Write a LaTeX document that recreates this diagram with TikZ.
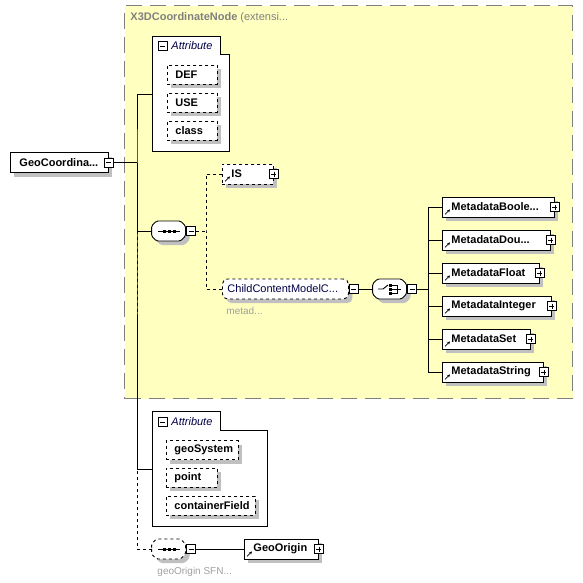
\documentclass[tikz,border=0pt]{standalone}
\usepackage{fontspec}
\setmainfont{Liberation Sans}
\usepackage{tikz}
\usetikzlibrary{shadows,arrows.meta}

\definecolor{amarillo}{RGB}{255,255,192}
\definecolor{gris}{RGB}{128,128,128}
\definecolor{grisclaro}{RGB}{160,160,160}
\definecolor{sombra}{RGB}{192,192,192}
\definecolor{azul}{RGB}{0,0,72}

\begin{document}
\begin{tikzpicture}[x=1pt, y=-1pt, line width=0.9pt, font=\fontsize{11}{13}\selectfont]

\useasboundingbox (0,0) rectangle (583,582);

% Set the overall look of the boxes
\tikzstyle{sombreado}=[drop shadow={shadow xshift=4pt, shadow yshift=-4pt, fill=sombra, opacity=1}]
\tikzstyle{elemento}=[rectangle, draw, fill=white, sombreado, anchor=west, minimum height=20pt, inner xsep=9pt, align=left, font=\fontsize{11}{13}\selectfont\bfseries]
\tikzstyle{atributo}=[elemento, dashed, minimum height=19pt, inner xsep=8pt]
\tikzstyle{grupo}=[rectangle, anchor=north west, inner sep=0pt]
\tikzstyle{modelo}=[rectangle, minimum width=34pt, minimum height=20pt, inner sep=0pt]
\tikzstyle{octo}=[draw, fill=white, sombreado, rounded corners=1.5pt]
\tikzstyle{nota}=[anchor=west, inner sep=0pt, text=grisclaro, font=\fontsize{10}{12}\selectfont]

% Define styles for the small plus and minus boxes
\tikzstyle{signo}=[rectangle, draw, solid, fill=white, minimum size=9pt, inner sep=0pt, line width=0.8pt]
\tikzstyle{menos}=[signo, path picture={\draw (path picture bounding box.west) ++(2pt,0pt) -- ++(5pt,0pt);}]
\tikzstyle{mas}=[signo, path picture={\draw (path picture bounding box.west) ++(2pt,0pt) -- ++(5pt,0pt);
    \draw (path picture bounding box.north) ++(0pt,-2pt) -- ++(0pt,-5pt);}]

% Extension box
\node[draw=gris, dash pattern=on 16pt off 8pt, fill=amarillo, line width=1.1pt, minimum width=448pt, minimum height=393pt, anchor=north west, inner sep=0pt] (ext) at (124,5) {};
\node[anchor=west, inner sep=0pt, text=gris] (titulo) at (130,18) {\textbf{X3DCoordinateNode} (extensi...};

% Main element
\node[elemento, text width=80pt] (geo) at (10,162.5) {GeoCoordina...};
\node[menos] (geom) at (geo.east) {};

% First attribute group
\node[grupo, minimum width=77pt, minimum height=115pt] (atr1) at (152,36) {};
\draw[fill=white] (atr1.north west) -- ++(68,0) -- ++(0,18) -| (atr1.south east) -- (atr1.south west) -- cycle;
\node[menos] (atr1m) at (162.5,46) {};
\node[anchor=west, inner sep=0pt, text=azul, font=\fontsize{11}{13}\selectfont\itshape] (atr1t) at (171,46) {Attribute};
\node[atributo, text width=34pt] (def) at (167,74.5) {DEF};
\node[atributo, text width=34pt] (use) at (167,102.5) {USE};
\node[atributo, text width=34pt] (class) at (167,130.5) {class};

% Sequence with IS and the metadata group
\node[modelo] (sec1) at (169,231) {};
\draw[octo] (sec1.west) -- ++(0,-5) -- ++(5,-5) -- ++(24,0) -- ++(5,5) -- ++(0,10) -- ++(-5,5) -- ++(-24,0) -- ++(-5,-5) -- cycle;
\node[menos, anchor=west] (sec1m) at (sec1.east) {};
\draw ([xshift=-11pt]sec1.center) -- ([xshift=11pt]sec1.center);
\foreach \dx in {-5,0,5}
    \fill ([xshift=\dx pt]sec1.center) ++(-1.5,-1.5) rectangle ++(3,3);

\node[elemento, dashed, text width=33pt] (is) at (222,174) {IS};
\node[mas] (ism) at (is.east) {};

\node[elemento, dashed, rounded corners=5pt, inner xsep=5pt, text width=116pt, text=azul, font=\fontsize{11}{13}\selectfont] (ccm) at (222,289) {ChildContentModelC...};
\node[menos, anchor=west] (ccmm) at (ccm.east) {};
\node[nota] (ccmt) at (226,311) {metad...};

% Choice of metadata nodes
\node[modelo] (ele) at (390,289) {};
\draw[octo] (ele.west) -- ++(0,-5) -- ++(5,-5) -- ++(24,0) -- ++(5,5) -- ++(0,10) -- ++(-5,5) -- ++(-24,0) -- ++(-5,-5) -- cycle;
\node[menos, anchor=west] (elem) at (ele.east) {};
\draw ([xshift=-12pt]ele.center) -- ++(5,0) -- ++(5,-4);
\foreach \dy in {-4,0,4}
    \fill ([shift={(0,\dy)}]ele.center) ++(-1.5,-1.5) rectangle ++(3,3);
\draw ([shift={(2,-4)}]ele.center) -- ++(5,0) -- ++(0,8) -- ++(-5,0);
\draw ([shift={(2,0)}]ele.center) -- ++(9,0);

\node[elemento, text width=94pt] (mbool) at (442,207) {MetadataBoole...};
\node[elemento, text width=90pt] (mdou) at (442,240) {MetadataDou...};
\node[elemento, text width=79pt] (mfloat) at (442,273) {MetadataFloat};
\node[elemento, text width=91pt] (mint) at (442,306) {MetadataInteger};
\node[elemento, text width=70pt] (mset) at (442,339) {MetadataSet};
\node[elemento, text width=83pt] (mstr) at (442,372) {MetadataString};
\foreach \n in {mbool,mdou,mfloat,mint,mset,mstr}
    \node[mas] (\n m) at (\n.east) {};

% Second attribute group
\node[grupo, minimum width=115pt, minimum height=115pt] (atr2) at (152,411) {};
\draw[fill=white] (atr2.north west) -- ++(68,0) -- ++(0,19) -| (atr2.south east) -- (atr2.south west) -- cycle;
\node[menos] (atr2m) at (162.5,422) {};
\node[anchor=west, inner sep=0pt, text=azul, font=\fontsize{11}{13}\selectfont\itshape] (atr2t) at (171,422) {Attribute};
\node[atributo, text width=56pt] (geosys) at (166,450) {geoSystem};
\node[atributo, text width=35pt] (point) at (166,477.5) {point};
\node[atributo, text width=73pt] (cfield) at (166,505.5) {containerField};

% Optional sequence with GeoOrigin
\node[modelo] (sec2) at (169,549) {};
\draw[octo, dashed] (sec2.west) -- ++(0,-5) -- ++(5,-5) -- ++(24,0) -- ++(5,5) -- ++(0,10) -- ++(-5,5) -- ++(-24,0) -- ++(-5,-5) -- cycle;
\node[menos, anchor=west] (sec2m) at (sec2.east) {};
\draw ([xshift=-11pt]sec2.center) -- ([xshift=11pt]sec2.center);
\foreach \dx in {-5,0,5}
    \fill ([xshift=\dx pt]sec2.center) ++(-1.5,-1.5) rectangle ++(3,3);
\node[elemento, text width=56pt] (orig) at (244,549) {GeoOrigin};
\node[mas] (origm) at (orig.east) {};
\node[nota] (origt) at (157,572) {geoOrigin SFN...};

% Small arrows of the referenced elements
\foreach \n in {is,mbool,mdou,mfloat,mint,mset,mstr,orig}
    \draw[-{Stealth[length=3pt,width=3pt]}, line width=0.7pt] ([shift={(3,-3)}]\n.south west) -- ++(5,-5);

% Connectors
\coordinate (tronco) at (137,162.5);
\coordinate (rama) at (206,231);
\coordinate (rama2) at (428,289);
\draw (geom.east) -- (tronco);
\draw (atr1.west) -| (tronco) |- (atr2.west);
\draw (sec1.west) -| (tronco);
\draw[dashed] (sec2.west) -| (tronco);
\draw[dashed] (sec1m.east) -- (rama);
\draw[dashed] (is.west) -| (rama) |- (ccm.west);
\draw (ccmm.east) -- (ele.west);
\draw (elem.east) -- (rama2);
\draw (mbool.west) -| (rama2) |- (mstr.west);
\foreach \n in {mdou,mfloat,mint,mset}
    \draw (\n.west) -| (rama2);
\draw (sec2m.east) -- (orig.west);

\end{tikzpicture}
\end{document}
